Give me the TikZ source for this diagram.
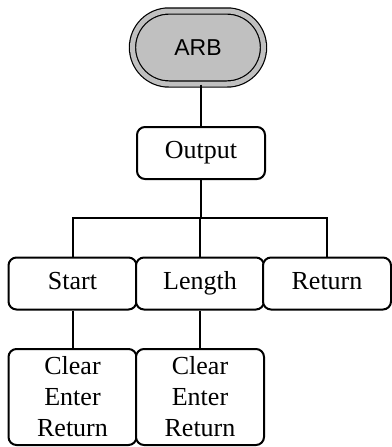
\documentclass[tikz,border=0pt]{standalone}
\usepackage{fontspec}
\setmainfont{Liberation Serif}
\newfontfamily\arbfont{Liberation Sans}
\usepackage{tikz}
\usetikzlibrary{positioning, shapes.misc}
\definecolor{inkline}{RGB}{0, 0, 0}
\definecolor{keygray}{RGB}{192, 192, 192}
\tikzset{
    menu/.style  ={draw=inkline, line width=2pt, fill=white,
                   minimum width=128pt, minimum height=52pt, inner sep=0pt,
                   text height=17pt, text depth=6pt,
                   font=\fontsize{26}{31}\selectfont, rounded corners=8pt},
    tallmenu/.style={draw=inkline, line width=2pt, fill=white,
                   minimum width=128pt, minimum height=96pt, inner sep=0pt,
                   align=center, font=\fontsize{26}{31}\selectfont,
                   rounded corners=8pt},
    softkey/.style={rounded rectangle, draw=inkline, line width=1.2pt,
                   double=keygray, double distance=5pt, fill=keygray,
                   minimum width=131pt, minimum height=73pt, inner sep=0pt,
                   font=\arbfont\fontsize{23}{27}\selectfont},
    wire/.style  ={line width=2pt, draw=inkline}
}

\begin{document}
\begin{tikzpicture}[x=1pt, y=-1pt]
  \useasboundingbox (0,0) rectangle (391,447);
  \node[softkey] (arb) at (198,47.5) {ARB};
  \node[menu] (output) at (201,153) {Output};

  \node[menu] (start)  at (72.5,283.5)  {Start};
  \node[menu] (length) at (200,283.5)   {Length};
  \node[menu] (ret)    at (327,283.5)   {Return};

  \node[tallmenu] (startsub)  at (72.5,397) {Clear\\Enter\\Return};
  \node[tallmenu] (lengthsub) at (200,397)  {Clear\\Enter\\Return};

  \coordinate (bus) at (201,218);

  \draw[wire] (arb.south -| output.north) -- (output.north);
  \draw[wire] (output.south) -- (bus);
  \draw[wire] (start.north) |- (bus) -| (ret.north);
  \draw[wire] (bus) -- (bus -| length.north) -- (length.north);
  \draw[wire] (start.south) -- (startsub.north);
  \draw[wire] (length.south) -- (lengthsub.north);
\end{tikzpicture}
\end{document}
